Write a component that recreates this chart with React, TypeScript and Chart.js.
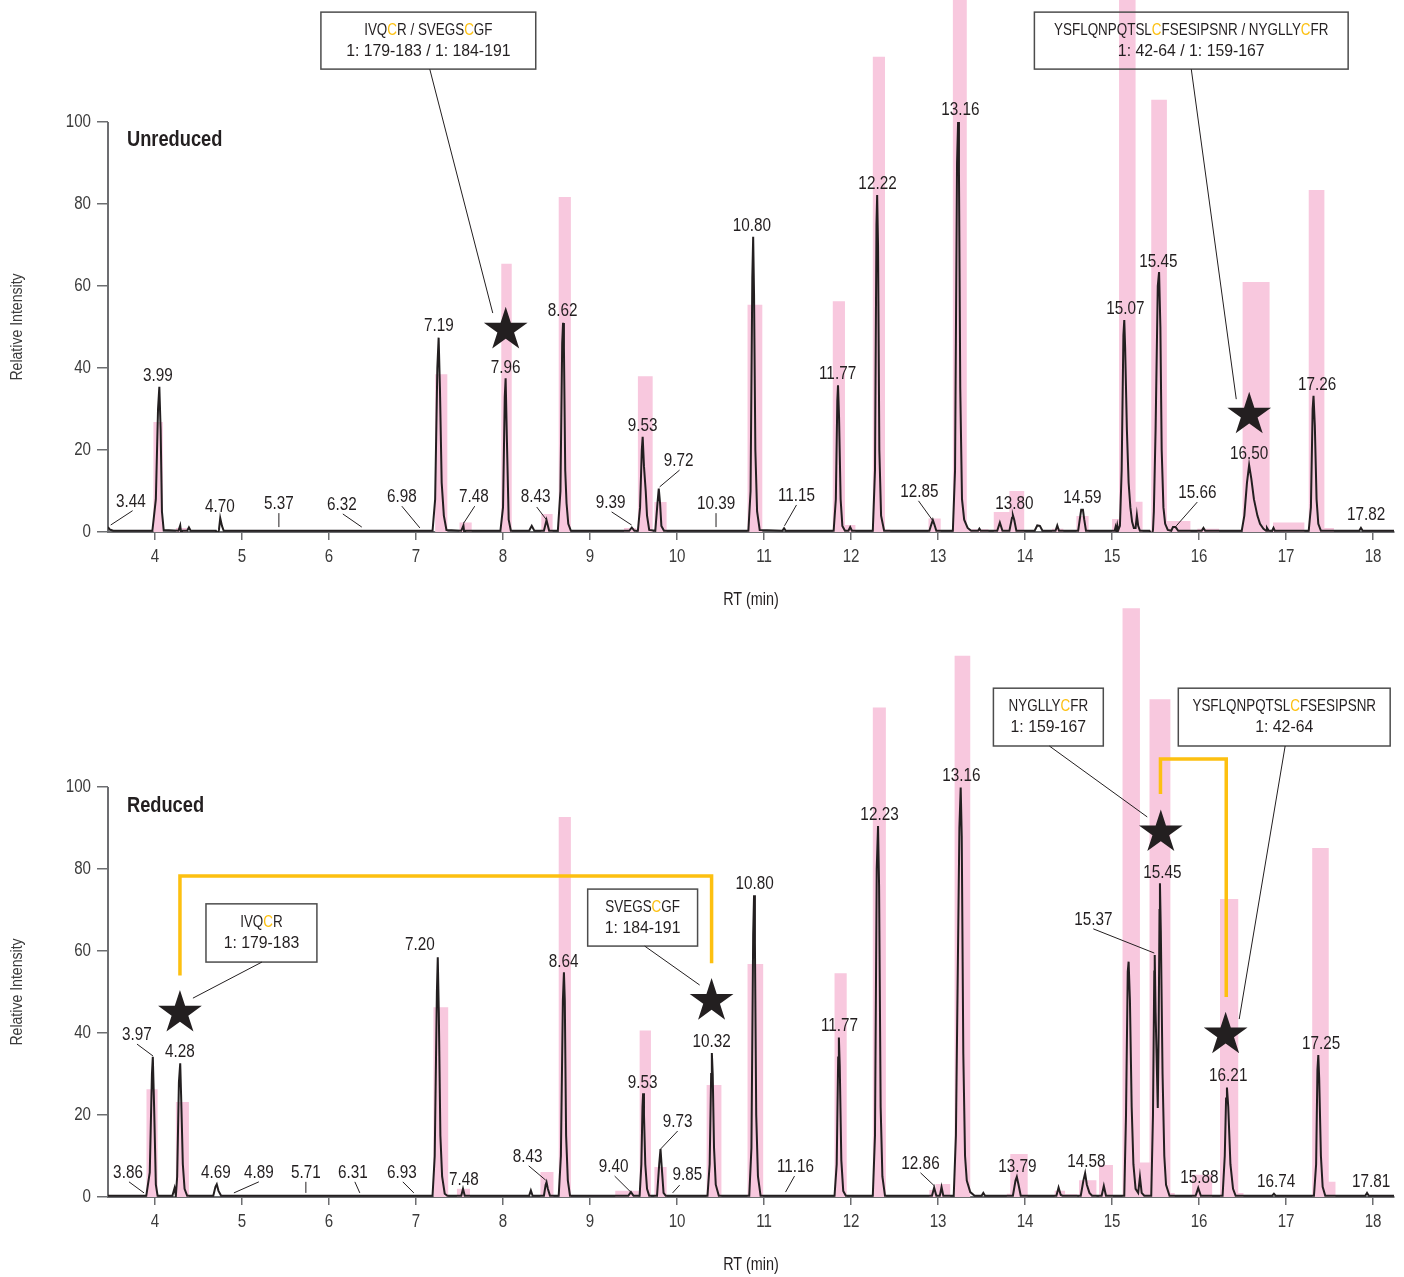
import React, { useEffect, useRef } from "react";
import { Chart, registerables } from "chart.js";

Chart.register(...registerables);

type Pt = [number, number];
type Bar = [number, number, number]; // start RT, end RT, relative intensity
type PeakLabel = [string, number, number, number[]?]; // text, RT, intensity, optional leader [x1,y1,x2,y2]
type CalloutBox = { lines: string[]; left: number; right: number; top: number; bottom: number; leader: number[] };

// ---------- axis range ----------
const rtMin = 3.46;
const rtMax = 18.24;
const yAxisTop = 100;
const xAxisTitle = "RT (min)";
const yAxisTitle = "Relative Intensity";

// ---------- Unreduced ----------
const unreducedTrace: Pt[] = [
  [3.46, 1.2], [3.48, 0.6], [3.52, 0.3],
  [3.97, 0.3], [4.01, 8], [4.035, 30], [4.05, 35.4], [4.065, 25], [4.08, 5], [4.1, 0.5],
  [4.27, 0.3], [4.29, 1.6], [4.3, -0.2], [4.31, 0.3], [4.37, 0.3], [4.39, 1.1], [4.41, 0.3],
  [4.7, 0.3], [4.72, -0.6], [4.735, 0.5], [4.75, 3.4], [4.77, 1.5], [4.79, 0.3],
  [7.19, 0.3], [7.22, 8], [7.245, 40], [7.26, 47.4], [7.275, 35], [7.295, 12], [7.32, 4], [7.35, 0.5],
  [7.52, 0.3], [7.545, 1.6], [7.555, -0.3], [7.57, 0.3],
  [7.97, 0.3], [8.0, 6], [8.02, 33], [8.03, 37.5], [8.045, 22], [8.065, 3], [8.09, 0.3],
  [8.3, 0.3], [8.33, 1.5], [8.36, 0.3],
  [8.47, 0.3], [8.5, 2.9], [8.53, 0.3],
  [8.63, 0.3], [8.66, 10], [8.68, 46], [8.69, 51], [8.7, 45], [8.715, 15], [8.73, 7], [8.75, 2], [8.78, 0.3],
  [9.45, 0.3], [9.48, 1.1], [9.51, 0.3],
  [9.55, 0.3], [9.575, 6], [9.595, 20], [9.605, 23.2], [9.62, 16], [9.64, 10], [9.655, 4], [9.68, 0.5],
  [9.75, 0.3], [9.775, 7], [9.79, 10.6], [9.805, 7], [9.82, 1.5], [9.85, 0.3],
  [10.82, 0.3], [10.845, 10], [10.865, 62], [10.875, 72], [10.885, 58], [10.9, 20], [10.92, 5], [10.95, 0.5],
  [11.21, 0.3], [11.23, 0.9], [11.25, 0.3],
  [11.8, 0.3], [11.825, 8], [11.842, 32], [11.85, 35.8], [11.862, 28], [11.88, 8], [11.9, 1.5], [11.93, 0.3],
  [11.97, 0.3], [11.99, 1.2], [12.01, 0.3],
  [12.25, 0.3], [12.275, 15], [12.292, 75], [12.3, 82.2], [12.31, 70], [12.325, 20], [12.345, 4], [12.38, 0.3],
  [12.9, 0.3], [12.925, 2], [12.94, 2.9], [12.955, 2], [12.98, 0.3],
  [13.17, 0.3], [13.195, 15], [13.218, 90], [13.23, 100], [13.24, 88], [13.255, 35], [13.275, 8], [13.3, 3], [13.34, 1], [13.38, 0.3],
  [13.46, 0.3], [13.475, 0.8], [13.49, 0.3],
  [13.68, 0.3], [13.71, 2.3], [13.74, 0.3],
  [13.82, 0.3], [13.85, 3.5], [13.86, 4.1], [13.875, 3], [13.9, 0.3],
  [14.11, 0.3], [14.14, 1.6], [14.17, 1.5], [14.2, 0.3],
  [14.35, 0.3], [14.37, 1.6], [14.39, 0.3],
  [14.61, 0.3], [14.635, 4], [14.645, 5.4], [14.665, 5.4], [14.68, 3], [14.7, 0.3],
  [15.03, 0.3], [15.04, 1.2], [15.05, 0.2], [15.06, 1.6], [15.07, 0.4], [15.09, 1.5],
  [15.11, 15], [15.13, 48], [15.14, 51.7], [15.15, 45], [15.17, 25], [15.19, 12], [15.21, 6], [15.23, 2.5], [15.25, 1], [15.27, 1], [15.285, 4.1], [15.3, 1.5], [15.32, 0.3],
  [15.43, 0.3], [15.455, -1], [15.47, 0.5], [15.48, 5], [15.5, 25], [15.525, 60], [15.54, 63.4], [15.555, 50], [15.57, 20], [15.59, 6], [15.61, 2], [15.64, 0.5],
  [15.68, 0.3], [15.7, 1.2], [15.73, 1.2], [15.76, 0.3],
  [16.03, 0.3], [16.05, 1], [16.07, 0.3],
  [16.49, 0.3], [16.52, 4], [16.55, 12], [16.575, 16.3], [16.6, 13], [16.63, 8], [16.67, 4], [16.7, 2], [16.74, 0.8], [16.77, 0.3], [16.78, 1], [16.8, 0.3],
  [16.84, 0.3], [16.855, 1], [16.87, 0.3],
  [17.26, 0.3], [17.285, 6], [17.305, 30], [17.315, 33.2], [17.33, 26], [17.35, 8], [17.37, 2], [17.4, 0.3],
  [17.84, 0.3], [17.86, 1], [17.88, 0.3],
  [18.24, 0.3],
];

const unreducedBars: Bar[] = [
  [3.98, 4.09, 26.8], [4.24, 4.37, 1.0], [7.22, 7.36, 38.5], [7.5, 7.64, 2.3], [7.98, 8.1, 65.4],
  [8.44, 8.57, 4.4], [8.64, 8.78, 81.7], [9.39, 9.53, 1.0], [9.55, 9.72, 38.0], [9.74, 9.88, 7.3],
  [10.81, 10.98, 55.4], [11.79, 11.93, 56.3], [11.93, 12.05, 1.7], [12.25, 12.39, 115.9], [12.39, 12.45, 0.6],
  [12.89, 13.03, 3.3], [13.17, 13.33, 140], [13.33, 13.58, 0.7], [13.64, 13.82, 4.9], [13.82, 13.99, 10.0],
  [14.31, 14.44, 0.8], [14.59, 14.73, 3.9], [15.0, 15.08, 3.2], [15.08, 15.27, 140], [15.27, 15.35, 7.4],
  [15.45, 15.63, 105.4], [15.63, 15.9, 2.7], [15.98, 16.23, 0.8], [16.5, 16.81, 61.0], [16.85, 17.21, 2.3],
  [17.26, 17.44, 83.4], [17.44, 17.55, 1.0],
];

const unreducedPeakLabels: PeakLabel[] = [
  ["3.44", 3.724, 7.3, [3.743, 5.2, 3.491, 1.7]],
  ["3.99", 4.034, 38.0],
  ["4.70", 4.747, 6.1],
  ["5.37", 5.424, 6.8, [5.424, 4.6, 5.424, 1.2]],
  ["6.32", 6.148, 6.6, [6.159, 4.4, 6.377, 1.2]],
  ["6.98", 6.837, 8.5, [6.837, 6.3, 7.044, 1.0]],
  ["7.19", 7.262, 50.2],
  ["7.48", 7.664, 8.5, [7.675, 6.3, 7.549, 2.2]],
  ["7.96", 8.031, 40.0],
  ["8.43", 8.376, 8.5, [8.387, 6.1, 8.502, 2.9]],
  ["8.62", 8.686, 53.9],
  ["9.39", 9.237, 7.1, [9.248, 4.9, 9.478, 1.7]],
  ["9.53", 9.605, 25.9],
  ["9.72", 10.018, 17.3, [10.029, 15.1, 9.8, 11.0]],
  ["10.39", 10.448, 6.8, [10.448, 4.6, 10.448, 1.2]],
  ["10.80", 10.861, 74.6],
  ["11.15", 11.373, 8.8, [11.373, 6.6, 11.235, 1.5]],
  ["11.77", 11.845, 38.5],
  ["12.22", 12.304, 84.9],
  ["12.85", 12.786, 9.8, [12.775, 7.6, 12.935, 2.9]],
  ["13.16", 13.257, 102.9],
  ["13.80", 13.877, 6.8],
  ["14.59", 14.658, 8.3],
  ["15.07", 15.152, 54.4],
  ["15.45", 15.531, 65.9],
  ["15.66", 15.979, 9.5, [15.979, 7.3, 15.738, 1.5]],
  ["16.50", 16.576, 19.0],
  ["17.26", 17.357, 35.9],
  ["17.82", 17.92, 4.1],
];

const unreducedBoxes: CalloutBox[] = [
  { lines: ["IVQ{C}R / SVEGS{C}GF", "1: 179-183 / 1: 184-191"], left: 5.907, right: 8.376, top: 126.8, bottom: 112.9, leader: [7.158, 112.9, 7.882, 53.4] },
  { lines: ["YSFLQNPQTSL{C}FSESIPSNR / NYGLLY{C}FR", "1: 42-64 / 1: 159-167"], left: 14.107, right: 17.713, top: 126.8, bottom: 112.9, leader: [15.91, 112.9, 16.427, 32.4] },
];
const unreducedStars: Pt[] = [[8.031, 49.3], [16.576, 28.6]];
const unreducedBrackets: Pt[][] = [];

// ---------- Reduced ----------
const reducedTrace: Pt[] = [
  [3.46, 0.3], [3.9, 0.3], [3.94, 6], [3.965, 30], [3.975, 34.2], [3.99, 22], [4.01, 3], [4.03, 0.3],
  [4.2, 0.3], [4.225, 2.2], [4.24, 0.3], [4.255, 5], [4.275, 28], [4.29, 32.6], [4.3, 25], [4.32, 8], [4.34, 2], [4.37, 0.3],
  [4.67, 0.3], [4.695, 2.5], [4.71, 3.1], [4.73, 1.5], [4.76, 0.3],
  [7.19, 0.3], [7.215, 10], [7.24, 50], [7.25, 58.5], [7.262, 45], [7.28, 15], [7.3, 5], [7.33, 0.8], [7.36, 0.3],
  [7.52, 0.3], [7.54, 2], [7.56, 0.3],
  [8.3, 0.3], [8.32, 1.6], [8.34, 0.3],
  [8.47, 0.3], [8.49, 3], [8.5, 3.6], [8.515, 2], [8.54, 0.3],
  [8.64, 0.3], [8.665, 10], [8.688, 48], [8.7, 54.8], [8.71, 48], [8.725, 15], [8.745, 4], [8.77, 0.3],
  [9.44, 0.3], [9.47, 1.2], [9.5, 0.3],
  [9.57, 0.3], [9.59, 8], [9.603, 22], [9.61, 25.3], [9.62, 20], [9.635, 8], [9.655, 2], [9.68, 0.3],
  [9.77, 0.3], [9.795, 8], [9.81, 11.7], [9.825, 7], [9.845, 1], [9.87, 0.3],
  [10.35, 0.3], [10.375, 8], [10.392, 30], [10.4, 35.1], [10.41, 30], [10.425, 12], [10.445, 3], [10.48, 0.3],
  [10.83, 0.3], [10.855, 12], [10.875, 64], [10.885, 73.6], [10.895, 62], [10.91, 20], [10.93, 5], [10.96, 0.3],
  [11.81, 0.3], [11.835, 8], [11.852, 34], [11.86, 38.9], [11.87, 32], [11.888, 9], [11.91, 1.5], [11.94, 0.3],
  [12.25, 0.3], [12.275, 15], [12.295, 80], [12.31, 90.5], [12.322, 76], [12.34, 22], [12.36, 5], [12.39, 0.3],
  [12.93, 0.3], [12.955, 2.3], [12.98, 0.3], [13.02, 0.3], [13.04, 2.4], [13.06, 0.3],
  [13.18, 0.3], [13.205, 15], [13.245, 90], [13.26, 99.9], [13.272, 88], [13.29, 35], [13.31, 10], [13.33, 4], [13.37, 1.2], [13.42, 0.3],
  [13.5, 0.3], [13.52, 1], [13.54, 0.3],
  [13.86, 0.3], [13.89, 4], [13.905, 4.9], [13.925, 3], [13.95, 0.3],
  [14.36, 0.3], [14.385, 2.3], [14.41, 0.5], [14.43, 0.3],
  [14.64, 0.3], [14.67, 4], [14.69, 5.8], [14.71, 3], [14.74, 1], [14.77, 0.3],
  [14.88, 0.3], [14.905, 2.7], [14.93, 0.3],
  [15.14, 0.3], [15.16, 20], [15.18, 55], [15.19, 57.4], [15.205, 48], [15.225, 22], [15.245, 8], [15.27, 2], [15.3, 1], [15.32, 4.9], [15.34, 1], [15.37, 0.3],
  [15.45, 0.3], [15.47, 20], [15.485, 55], [15.49, 59.0], [15.5, 45], [15.525, 21.7], [15.535, 40], [15.545, 70], [15.55, 76.5], [15.56, 65], [15.58, 30], [15.6, 10], [15.62, 3], [15.66, 0.3],
  [15.96, 0.3], [15.99, 2.2], [16.02, 0.3],
  [16.27, 0.3], [16.295, 10], [16.31, 24], [16.32, 26.7], [16.335, 22], [16.36, 8], [16.39, 2], [16.42, 0.3],
  [16.84, 0.3], [16.86, 0.8], [16.88, 0.3],
  [17.32, 0.3], [17.345, 8], [17.36, 31], [17.37, 34.6], [17.38, 29], [17.4, 10], [17.42, 2.5], [17.45, 0.3],
  [17.91, 0.3], [17.93, 1], [17.95, 0.3],
  [18.24, 0.3],
];

const reducedBars: Bar[] = [
  [3.9, 4.03, 26.3], [4.24, 4.39, 23.2], [7.2, 7.37, 46.3], [7.47, 7.62, 2.0], [8.43, 8.58, 6.1],
  [8.64, 8.78, 92.7], [9.29, 9.56, 1.5], [9.57, 9.7, 40.6], [9.74, 9.88, 7.3], [10.34, 10.51, 27.3],
  [10.81, 10.99, 56.8], [11.81, 11.95, 54.6], [12.25, 12.4, 119.4], [12.9, 12.97, 1.7], [12.97, 13.14, 3.2],
  [13.19, 13.37, 132], [13.79, 13.83, 0.8], [13.83, 14.03, 10.5], [14.34, 14.46, 1.5], [14.46, 14.6, 0.7],
  [14.62, 14.82, 4.1], [14.85, 15.01, 7.8], [15.12, 15.32, 143.6], [15.32, 15.43, 8.4], [15.43, 15.67, 121.4],
  [15.67, 15.72, 1.0], [15.92, 16.15, 5.4], [16.24, 16.45, 72.7], [16.45, 16.51, 1.0], [17.3, 17.49, 85.1],
  [17.49, 17.57, 3.7],
];

const reducedPeakLabels: PeakLabel[] = [
  ["3.86", 3.69, 5.9, [3.701, 3.7, 3.874, 1.0]],
  ["3.97", 3.793, 39.5, [3.793, 37.3, 3.977, 34.4]],
  ["4.28", 4.287, 35.4],
  ["4.69", 4.701, 5.9],
  ["4.89", 5.194, 5.9, [5.194, 3.7, 4.907, 1.0]],
  ["5.71", 5.734, 5.9, [5.734, 3.7, 5.734, 1.0]],
  ["6.31", 6.274, 5.9, [6.297, 3.7, 6.354, 1.0]],
  ["6.93", 6.837, 5.9, [6.848, 3.7, 6.975, 1.0]],
  ["7.20", 7.044, 61.5],
  ["7.48", 7.549, 4.1],
  ["8.43", 8.284, 9.8, [8.295, 7.6, 8.491, 4.1]],
  ["8.64", 8.697, 57.3],
  ["9.40", 9.272, 7.3, [9.283, 5.1, 9.478, 1.0]],
  ["9.53", 9.605, 27.8],
  ["9.73", 10.007, 18.3, [10.007, 16.1, 9.811, 11.7]],
  ["9.85", 10.12, 5.4, [10.03, 2.9, 9.949, 1.0]],
  ["10.32", 10.397, 37.8],
  ["10.80", 10.891, 76.3],
  ["11.16", 11.362, 7.3, [11.35, 5.1, 11.247, 1.2]],
  ["11.77", 11.867, 41.7],
  ["12.23", 12.327, 93.2],
  ["12.86", 12.798, 8.0, [12.798, 5.9, 12.958, 2.7]],
  ["13.16", 13.268, 102.7],
  ["13.79", 13.912, 7.3],
  ["14.58", 14.704, 8.5],
  ["15.37", 14.784, 67.6, [14.784, 65.4, 15.485, 59.5]],
  ["15.45", 15.577, 79.0],
  ["15.88", 16.002, 4.6],
  ["16.21", 16.335, 29.5],
  ["16.74", 16.886, 3.7],
  ["17.25", 17.403, 37.3],
  ["17.81", 17.977, 3.7],
];

const reducedBoxes: CalloutBox[] = [
  { lines: ["IVQ{C}R", "1: 179-183"], left: 4.586, right: 5.861, top: 71.5, bottom: 57.3, leader: [5.229, 57.3, 4.436, 48.5] },
  { lines: ["SVEGS{C}GF", "1: 184-191"], left: 8.973, right: 10.236, top: 75.1, bottom: 61.2, leader: [9.628, 61.2, 10.26, 51.7] },
  { lines: ["NYGLLY{C}FR", "1: 159-167"], left: 13.636, right: 14.899, top: 124.1, bottom: 110.0, leader: [14.279, 110.0, 15.404, 92.7] },
  { lines: ["YSFLQNPQTSL{C}FSESIPSNR", "1: 42-64"], left: 15.761, right: 18.196, top: 124.1, bottom: 110.0, leader: [16.989, 110.0, 16.461, 43.4] },
];
const reducedStars: Pt[] = [[4.287, 44.9], [10.397, 47.8], [15.56, 88.9], [16.305, 39.6]];
const reducedBrackets: Pt[][] = [
  [[4.287, 54.0], [4.287, 78.3], [10.397, 78.3], [10.397, 57.0]],
  [[15.556, 98.3], [15.556, 106.8], [16.312, 106.8], [16.312, 48.8]],
];

// ---------- styles ----------
const TEXT = "#231f20";
const TICKTEXT = "#3b3b3b";
const AXIS = "#6d6e71";
const PINK = "#f8c8de";
const YELLOW = "#fdc010";
const SANS = "'Liberation Sans', Arial, Helvetica, sans-serif";

type PanelSpec = {
  name: string;
  title: string;
  titlePos: Pt;
  trace: Pt[];
  bars: Bar[];
  labels: PeakLabel[];
  boxes: CalloutBox[];
  stars: Pt[];
  brackets: Pt[][];
  top: number;
  height: number;
  plotBottom: number; // pixel of y = 0 within canvas
};

// condensed text: draws with a horizontal squeeze factor k
function condText(
  ctx: CanvasRenderingContext2D,
  text: string,
  x: number,
  y: number,
  font: string,
  k: number,
  align: CanvasTextAlign,
  color: string
) {
  ctx.save();
  ctx.font = font;
  ctx.fillStyle = color;
  ctx.textAlign = align;
  ctx.textBaseline = "middle";
  ctx.translate(x, y);
  ctx.scale(k, 1);
  ctx.fillText(text, 0, 0);
  ctx.restore();
}

function richText(ctx: CanvasRenderingContext2D, text: string, cx: number, cy: number, font: string, k: number) {
  const parts = text
    .split(/(\{[^}]*\})/)
    .filter((s) => s.length > 0)
    .map((s) => (s.startsWith("{") ? { t: s.slice(1, -1), c: YELLOW } : { t: s, c: TEXT }));
  ctx.save();
  ctx.font = font;
  ctx.textBaseline = "middle";
  ctx.textAlign = "left";
  const total = parts.reduce((w, p) => w + ctx.measureText(p.t).width, 0);
  ctx.translate(cx, cy);
  ctx.scale(k, 1);
  let x = -total / 2;
  for (const p of parts) {
    ctx.fillStyle = p.c;
    ctx.fillText(p.t, x, 0);
    x += ctx.measureText(p.t).width;
  }
  ctx.restore();
}

function drawStar(ctx: CanvasRenderingContext2D, cx: number, cy: number, R: number) {
  const r = R * 0.382;
  ctx.beginPath();
  for (let i = 0; i < 10; i++) {
    const ang = -Math.PI / 2 + (i * Math.PI) / 5;
    const rad = i % 2 === 0 ? R : r;
    ctx.lineTo(cx + rad * Math.cos(ang), cy + rad * Math.sin(ang));
  }
  ctx.closePath();
  ctx.fill();
}

function makeOverlay(p: PanelSpec) {
  return {
    id: "overlay" + p.name,
    beforeDatasetsDraw(chart: any) {
      const { ctx, chartArea } = chart;
      const ys = chart.scales.y;
      ctx.save();
      ctx.strokeStyle = AXIS;
      ctx.lineWidth = 2;
      ctx.beginPath();
      ctx.moveTo(chartArea.left, ys.getPixelForValue(yAxisTop));
      ctx.lineTo(chartArea.left, ys.getPixelForValue(0) + 1);
      ctx.stroke();
      ctx.restore();
    },
    afterDraw(chart: any) {
      const { ctx, chartArea } = chart;
      const xs = chart.scales.x;
      const ys = chart.scales.y;
      const X = (v: number) => xs.getPixelForValue(v);
      const Y = (v: number) => ys.getPixelForValue(v);
      const tickFont = `18px ${SANS}`;
      const labelFont = `18px ${SANS}`;

      // tick labels from the library's ticks
      for (const t of xs.ticks) {
        condText(ctx, String(t.value), X(t.value), chartArea.bottom + 25, tickFont, 0.84, "center", TICKTEXT);
      }
      for (const t of ys.ticks) {
        if (t.value > yAxisTop) continue;
        condText(ctx, String(t.value), chartArea.left - 17, Y(t.value), tickFont, 0.84, "right", TICKTEXT);
      }
      // axis titles
      condText(ctx, xAxisTitle, (chartArea.left + chartArea.right) / 2, chartArea.bottom + 68.5, `18px ${SANS}`, 0.8, "center", TEXT);
      ctx.save();
      ctx.translate(18, (Y(0) + Y(yAxisTop)) / 2);
      ctx.rotate(-Math.PI / 2);
      condText(ctx, yAxisTitle, 0, 0, `16px ${SANS}`, 0.88, "center", "#3b3b3b");
      ctx.restore();

      // panel title
      condText(ctx, p.title, X(p.titlePos[0]), Y(p.titlePos[1]), `bold 22px ${SANS}`, 0.83, "left", TEXT);

      // brackets
      ctx.save();
      ctx.strokeStyle = YELLOW;
      ctx.lineWidth = 3.5;
      ctx.lineJoin = "miter";
      for (const br of p.brackets) {
        ctx.beginPath();
        br.forEach(([x, y], i) => (i === 0 ? ctx.moveTo(X(x), Y(y)) : ctx.lineTo(X(x), Y(y))));
        ctx.stroke();
      }
      ctx.restore();

      // peak labels
      ctx.save();
      ctx.strokeStyle = TEXT;
      ctx.lineWidth = 1;
      for (const [text, x, y, leader] of p.labels) {
        condText(ctx, text, X(x), Y(y), labelFont, 0.85, "center", TEXT);
        if (leader) {
          ctx.beginPath();
          ctx.moveTo(X(leader[0]), Y(leader[1]));
          ctx.lineTo(X(leader[2]), Y(leader[3]));
          ctx.stroke();
        }
      }
      ctx.restore();

      // callout boxes
      ctx.save();
      for (const b of p.boxes) {
        const l = X(b.left), r = X(b.right), t = Y(b.top), bt = Y(b.bottom);
        ctx.strokeStyle = "#4d4d4d";
        ctx.lineWidth = 1.5;
        ctx.strokeRect(l, t, r - l, bt - t);
        richText(ctx, b.lines[0], (l + r) / 2, t + 18, `17px ${SANS}`, 0.79);
        richText(ctx, b.lines[1], (l + r) / 2, t + 39, `17px ${SANS}`, 0.93);
        ctx.strokeStyle = TEXT;
        ctx.lineWidth = 1;
        ctx.beginPath();
        ctx.moveTo(X(b.leader[0]), Y(b.leader[1]));
        ctx.lineTo(X(b.leader[2]), Y(b.leader[3]));
        ctx.stroke();
      }
      ctx.restore();

      // stars
      ctx.save();
      ctx.fillStyle = TEXT;
      for (const [x, y] of p.stars) drawStar(ctx, X(x), Y(y), 23);
      ctx.restore();
    },
  };
}

function barOutline(bars: Bar[]) {
  const pts: { x: number; y: number }[] = [];
  for (const [a, b, h] of bars) {
    pts.push({ x: a, y: 0 }, { x: a, y: h }, { x: b, y: h }, { x: b, y: 0 });
  }
  return pts;
}

function Panel({ spec }: { spec: PanelSpec }) {
  const ref = useRef<HTMLCanvasElement>(null);
  useEffect(() => {
    const yMax = spec.plotBottom / 4.1;
    const xHeight = spec.height - spec.plotBottom;
    const chart = new Chart(ref.current as HTMLCanvasElement, {
      type: "line",
      data: {
        datasets: [
          {
            data: spec.trace.map(([x, y]) => ({ x, y })),
            borderColor: TEXT,
            borderWidth: 2,
            pointRadius: 0,
            fill: false,
            tension: 0,
            order: 0,
          },
          {
            data: barOutline(spec.bars),
            borderWidth: 0,
            borderColor: PINK,
            backgroundColor: PINK,
            pointRadius: 0,
            fill: "origin",
            tension: 0,
            order: 1,
          },
        ],
      },
      options: {
        animation: false,
        responsive: false,
        maintainAspectRatio: false,
        events: [],
        layout: { padding: { left: 0, right: 10, top: 0, bottom: 0 } },
        plugins: { legend: { display: false }, tooltip: { enabled: false } },
        scales: {
          x: {
            type: "linear",
            min: rtMin,
            max: rtMax,
            ticks: { stepSize: 1, includeBounds: false, autoSkip: false, display: false },
            grid: { drawOnChartArea: false, drawTicks: true, tickLength: 8, color: AXIS, lineWidth: 1.5 },
            border: { display: true, color: AXIS, width: 2 },
            title: { display: false },
            afterFit: (s: any) => {
              s.height = xHeight;
              s.paddingLeft = 0;
              s.paddingRight = 0;
            },
          },
          y: {
            type: "linear",
            min: 0,
            max: yMax,
            ticks: { stepSize: 20, includeBounds: false, display: false },
            grid: {
              drawOnChartArea: false,
              drawTicks: true,
              tickLength: 11,
              color: AXIS,
              lineWidth: 1.5,
              tickColor: (c: any) => (c.tick && c.tick.value > yAxisTop ? "rgba(0,0,0,0)" : AXIS),
            },
            border: { display: false },
            title: { display: false },
            afterFit: (s: any) => {
              s.width = 108;
              s.paddingTop = 0;
              s.paddingBottom = 0;
            },
          },
        },
      },
      plugins: [makeOverlay(spec)],
    } as any);
    return () => chart.destroy();
  }, [spec]);
  return (
    <canvas
      ref={ref}
      width={1404}
      height={spec.height}
      style={{ position: "absolute", left: 0, top: spec.top, width: 1404, height: spec.height }}
    />
  );
}

const unreducedSpec: PanelSpec = {
  name: "Unreduced",
  title: "Unreduced",
  titlePos: [3.678, 95.6],
  trace: unreducedTrace,
  bars: unreducedBars,
  labels: unreducedPeakLabels,
  boxes: unreducedBoxes,
  stars: unreducedStars,
  brackets: unreducedBrackets,
  top: 0,
  height: 620,
  plotBottom: 532,
};

const reducedSpec: PanelSpec = {
  name: "Reduced",
  title: "Reduced",
  titlePos: [3.678, 95.4],
  trace: reducedTrace,
  bars: reducedBars,
  labels: reducedPeakLabels,
  boxes: reducedBoxes,
  stars: reducedStars,
  brackets: reducedBrackets,
  top: 600,
  height: 677,
  plotBottom: 597,
};

export default function App() {
  useEffect(() => {
    document.body.style.margin = "0";
    document.body.style.background = "#ffffff";
  }, []);
  return (
    <div style={{ position: "relative", width: 1404, height: 1277, overflow: "hidden", background: "#fff" }}>
      <Panel spec={unreducedSpec} />
      <Panel spec={reducedSpec} />
    </div>
  );
}
